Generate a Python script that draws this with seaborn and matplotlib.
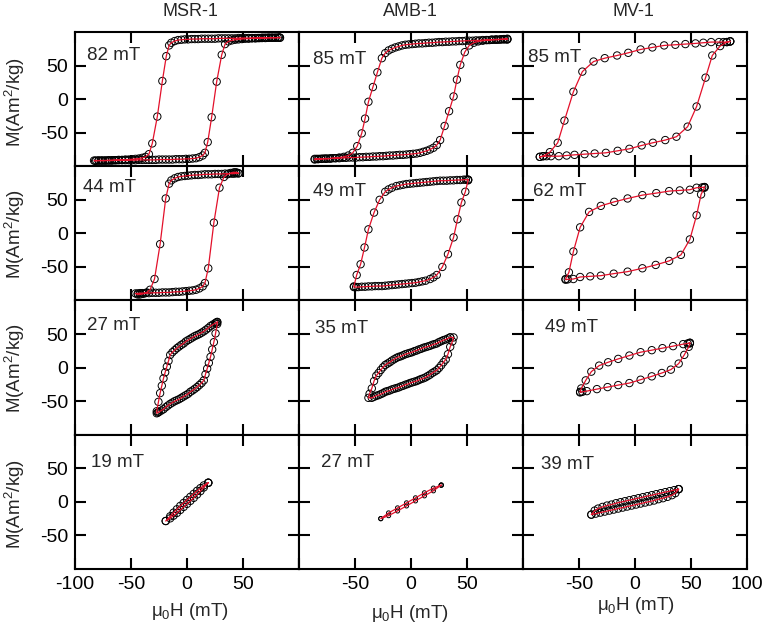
import numpy as np
import pandas as pd
import matplotlib
matplotlib.use("Agg")
import matplotlib.pyplot as plt
import seaborn as sns

# Hysteresis loops of three magnetite samples at four field amplitudes.
# Each loop is given by its descending branch (H from +max to -max);
# the ascending branch is the point-mirrored copy (-H, -M).

samples = ["MSR-1", "AMB-1", "MV-1"]
amplitudes = [["82 mT", "85 mT", "85 mT"],
              ["44 mT", "49 mT", "62 mT"],
              ["27 mT", "35 mT", "49 mT"],
              ["19 mT", "27 mT", "39 mT"]]

# row 1
msr1_82_h = [83, 81, 79, 77, 75, 73, 71, 69, 67, 65, 63, 61, 58, 55, 52, 49, 46, 43, 40, 37,
             34, 31, 28, 25, 22, 19, 16, 13, 10, 7, 4, 1, -2, -5, -8, -11, -14, -16, -18.5, -22,
             -26.5, -31, -34, -37, -40, -43, -46, -49, -52, -55, -58, -61, -64, -67, -70, -73,
             -76, -79, -82]
msr1_82_m = [91.5, 91.5, 91.5, 91.5, 91.5, 91.5, 91.5, 91.5, 91.5, 91, 91, 91, 91, 91, 91, 91, 91,
             90.5, 90.5, 90.5, 90.5, 90.5, 90.5, 90, 90, 90, 90, 90, 89.5, 89.5, 89.5, 89, 89,
             88.5, 88, 86.5, 84, 80, 64, 27, -26, -66, -82, -86, -87.5, -88.5, -89, -89.5, -90,
             -90, -90.5, -90.5, -91, -91, -91, -91.5, -91.5, -91.5, -92]

amb1_85_h = [86, 84, 82, 80, 78, 76, 74, 72, 70, 67, 64, 61, 58, 55, 52, 49, 46, 43, 40, 37,
             34, 31, 28, 25, 22, 19, 16, 13, 10, 7, 4, 1, -2, -5, -8, -11, -14, -17, -20, -23,
             -26, -30, -34, -38, -41, -44, -48, -52, -56, -60, -64, -68, -72, -76, -80, -83, -86]
amb1_85_m = [89, 89, 89, 89, 88.5, 88.5, 88.5, 88.5, 88, 88, 88, 87.5, 87.5, 87, 87, 87, 86.5,
             86.5, 86, 86, 85.5, 85.5, 85, 85, 84.5, 84, 84, 83.5, 83, 83, 82.5, 82, 81.5, 81,
             80, 78.5, 77, 75, 72.5, 68.5, 61, 40, 18, -4, -29, -51, -70, -80, -84, -86, -87,
             -88, -88.5, -89, -89, -89.5, -90]

mv1_85_h = [85, 82, 79, 75, 68, 61, 54, 45, 36, 26, 15.5, 5, -6, -16, -27, -37, -47, -55, -63,
            -69, -76, -82, -85]
mv1_85_m = [86, 85, 85, 85, 85, 84, 83, 82, 81, 80, 77, 74, 69, 65, 61, 56, 41, 11, -32, -65,
            -79, -85, -86]

# row 2
msr1_44_h = [46, 44, 42, 40, 37, 34, 31, 28, 25, 22, 19, 16, 13, 10, 7, 4, 1, -2, -5, -8,
             -11, -14, -16, -19, -24, -29, -33, -36, -39, -42, -44]
msr1_44_m = [89.5, 89.5, 89, 89, 89, 89, 88.5, 88.5, 88.5, 88, 88, 88, 87.5, 87, 87, 86.5, 86,
             85.5, 85, 84, 82, 79, 74, 52, -16, -68, -84, -88, -90, -91, -91]

amb1_49_h = [51, 49, 47, 44, 41, 38, 35, 32, 29, 26, 23, 20, 17, 14, 11, 8, 5, 2, -1, -4,
             -7, -10, -13, -17, -20, -23, -28, -33, -38, -41.5, -45, -48.5, -51]
amb1_49_m = [80, 80, 80, 79.5, 79.5, 79, 79, 78.5, 78.5, 78.5, 78, 77.5, 77, 76.5, 76, 75.5,
             75, 74.5, 74, 73.5, 72.5, 71.5, 70.5, 68, 65.5, 62, 50, 31, 6, -21, -46, -62, -79]

mv1_62_h = [62, 60, 55, 49, 40, 30.5, 19, 6.6, -6.6, -18.5, -30.5, -41, -49, -55, -59, -62]
mv1_62_m = [69, 68.5, 68, 65, 64, 63, 60, 57, 52, 47, 41, 32, 9, -27, -58, -68]

# row 3
msr1_27_h = [27, 26, 25, 23, 21, 19, 17, 15, 13, 11, 9, 7, 5, 3, 1, -1, -3, -5, -7, -9,
             -11, -13, -15, -16.5, -18, -19.5, -21, -22.5, -24, -25.5, -27]
msr1_27_m = [68, 67, 66, 64, 62, 59, 56.5, 54, 52, 50, 48.5, 47, 45, 43, 41, 39, 36, 34, 31.5,
             29, 26, 23, 19, 10, 1.5, -7, -16, -27, -38, -51, -65]

amb1_35_h = [35, 33, 31, 29, 27, 25, 23, 21, 19, 17, 15, 13, 11, 9, 7, 5, 3, 1, -1, -3,
             -5, -7, -9, -11, -13, -15, -17, -19, -21, -23, -25, -27, -29, -31, -33, -35, -37, -38]
amb1_35_m = [45, 43.5, 42, 41, 39.5, 38, 36, 35, 34, 32.5, 31.5, 30.5, 29.5, 28, 27, 25.5, 24.5,
             23, 22, 21, 20, 18.5, 17, 16, 14.5, 12.5, 10.5, 8, 6, 4, 0.5, -3.5, -8, -12, -20,
             -31, -39, -45]

mv1_49_h = [49, 47, 43, 34, 24.5, 15, 5, -5, -15, -24, -32, -39, -44, -48, -49]
mv1_49_m = [37, 36, 35, 32, 29, 26, 23, 18, 13, 8, 3, -6, -19, -31, -36]

# row 4
msr1_19_h = [19, 15, 12, 9, 6, 3, 0, -3, -6, -9, -12, -15, -19]
msr1_19_m = [28.5, 24.5, 20.5, 16.5, 12, 7.5, 3, -1.5, -6, -11, -16, -21.5, -28.5]

amb1_27_h = [27, 20, 12, 4, -4, -12, -20, -27]
amb1_27_m = [25, 20.5, 13.5, 6, -1.5, -9, -16.5, -25]

mv1_39_h = [39, 35, 31, 27, 23, 19, 15, 11, 7, 3, -1, -5, -9, -13, -17, -21, -25, -29, -33,
            -36, -39]
mv1_39_m = [19, 17.5, 16, 14.5, 13, 11.5, 10, 8.5, 7, 5.5, 4, 2.5, 1, -0.5, -2, -4, -5.5, -7.5,
            -10, -13, -19]

branches = [[(msr1_82_h, msr1_82_m), (amb1_85_h, amb1_85_m), (mv1_85_h, mv1_85_m)],
            [(msr1_44_h, msr1_44_m), (amb1_49_h, amb1_49_m), (mv1_62_h, mv1_62_m)],
            [(msr1_27_h, msr1_27_m), (amb1_35_h, amb1_35_m), (mv1_49_h, mv1_49_m)],
            [(msr1_19_h, msr1_19_m), (amb1_27_h, amb1_27_m), (mv1_39_h, mv1_39_m)]]

x_ticks = [-100, -50, 0, 50, 100]
x_tick_labels = [["-100", "-50", "0", "50", ""],
                 ["", "-50", "0", "50", ""],
                 ["", "-50", "0", "50", "100"]]
y_ticks = [-50, 0, 50]

# label offsets inside each panel (pixels from top-left corner)
label_dx = [[12, 14, 5], [8, 14, 10], [12, 16, 22], [16, 22, 18]]
label_dy = [[23, 27, 25], [21, 25, 25], [25, 28, 27], [28, 28, 30]]

sns.set_theme(style="ticks")
plt.rcParams.update({
    "font.family": ["Liberation Sans", "DejaVu Sans"],
    "mathtext.fontset": "custom",
    "mathtext.rm": "Liberation Sans",
    "mathtext.it": "Liberation Sans:italic",
    "axes.linewidth": 1.5,
    "axes.edgecolor": "black",
    "xtick.color": "black",
    "ytick.color": "black",
    "xtick.major.size": 8,
    "ytick.major.size": 8,
    "xtick.major.width": 1.5,
    "ytick.major.width": 1.5,
    "xtick.direction": "in",
    "ytick.direction": "in",
    "xtick.top": True,
    "ytick.right": True,
    "xtick.labelsize": 14,
    "ytick.labelsize": 14,
    "xtick.major.pad": 5,
    "ytick.major.pad": 5,
})

W, H = 762, 629
fig = plt.figure(figsize=(W / 100, H / 100), dpi=100)
gs = fig.add_gridspec(4, 3, left=75 / W, right=747 / W, top=1 - 32 / H, bottom=1 - 569 / H,
                      hspace=0, wspace=0)
panel_w, panel_h = 224, 134.25

for r in range(4):
    for c in range(3):
        ax = fig.add_subplot(gs[r, c])
        h_down, m_down = branches[r][c]
        loop = pd.DataFrame({
            "H": list(h_down) + [-v for v in h_down] + [h_down[0]],
            "M": list(m_down) + [-v for v in m_down] + [m_down[0]],
        })
        small = (r == 3 and c == 1)
        sns.scatterplot(data=loop, x="H", y="M", ax=ax, s=9 if small else 28,
                        facecolors="none", edgecolor="black", linewidth=0.7)
        sns.lineplot(data=loop, x="H", y="M", ax=ax, sort=False, estimator=None,
                     color="#e3102a", lw=0.9)

        ax.set_xlim(-100, 100)
        ax.set_ylim(-100, 100)
        ax.set_xticks(x_ticks)
        ax.set_yticks(y_ticks)
        ax.set_xticklabels(x_tick_labels[c] if r == 3 else [""] * len(x_ticks))
        ax.set_yticklabels([str(v) for v in y_ticks] if c == 0 else [""] * len(y_ticks))
        ax.set_xlabel("")
        ax.set_ylabel("")
        ax.text(label_dx[r][c] / panel_w, 1 - label_dy[r][c] / panel_h, amplitudes[r][c],
                transform=ax.transAxes, ha="left", va="center", fontsize=13.5)

for x, name in zip([190, 410, 633], samples):
    fig.text(x / W, 1 - 12 / H, name, ha="center", va="center", fontsize=13)

for y in [102, 234, 368, 504]:
    fig.text(15 / W, 1 - y / H, r"M(Am$\mathregular{^2}$/kg)", rotation=90,
             ha="center", va="center", fontsize=13.5)

for x, y in zip([190, 410, 636], [611, 613, 606]):
    fig.text(x / W, 1 - y / H, r"$\mathregular{\mu_0}$H (mT)", ha="center", va="center",
             fontsize=13.5)

fig.savefig("out.png", dpi=100, facecolor="white")
